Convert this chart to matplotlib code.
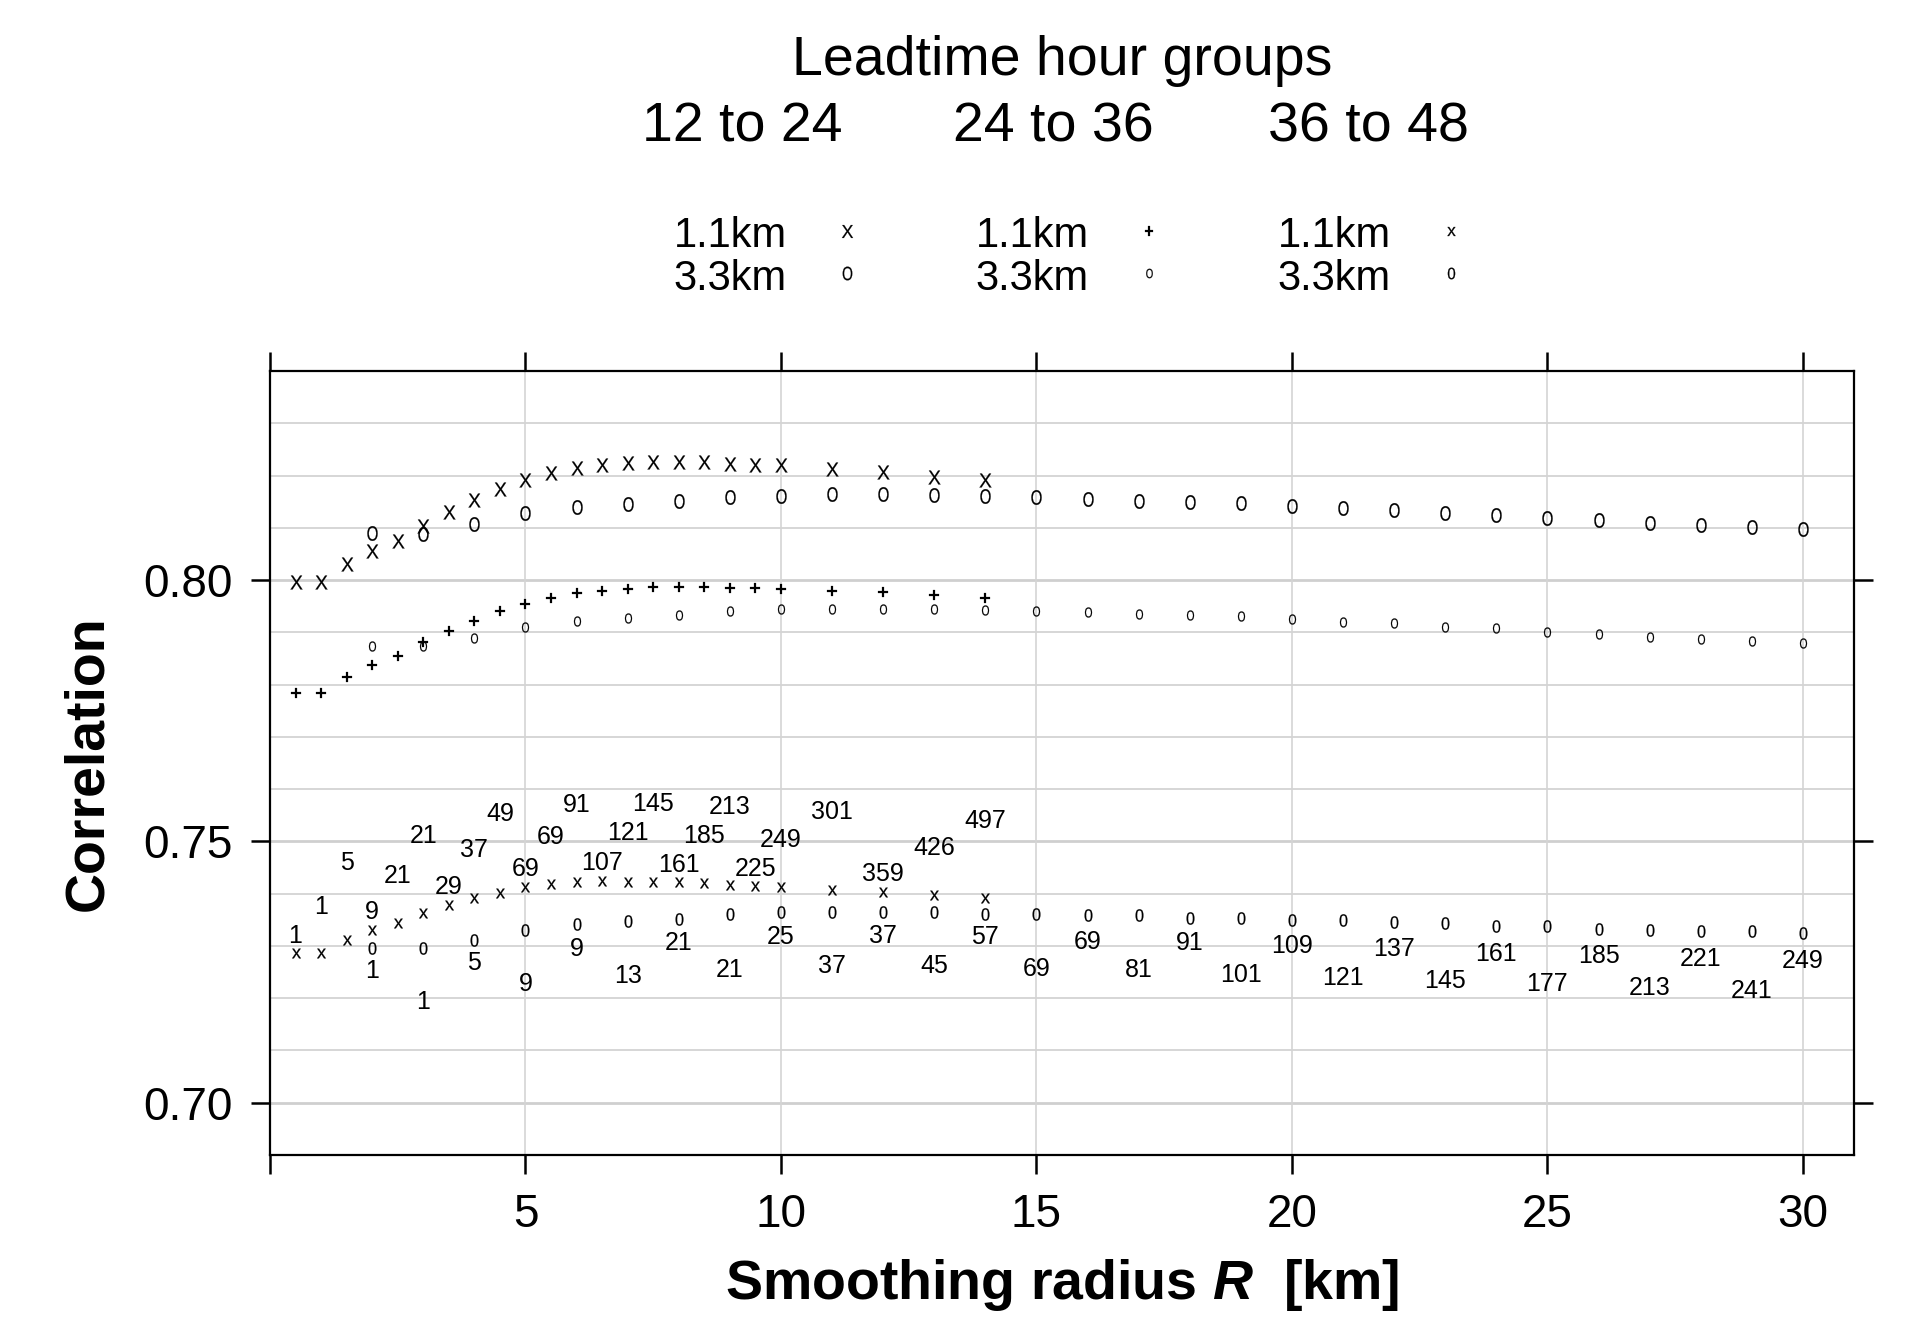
import numpy as np
import matplotlib.pyplot as plt
from matplotlib.textpath import TextPath
from matplotlib.font_manager import FontProperties
from matplotlib.path import Path

plt.rcParams['font.family'] = ['Liberation Sans', 'DejaVu Sans']
plt.rcParams['mathtext.fontset'] = 'custom'
plt.rcParams['mathtext.rm'] = 'Liberation Sans'
plt.rcParams['mathtext.it'] = 'Liberation Sans:italic:bold'
plt.rcParams['mathtext.bf'] = 'Liberation Sans:bold'

# smoothing radii (km)
radius_1km = [0.5, 1.0, 1.5, 2.0, 2.5, 3.0, 3.5, 4.0, 4.5, 5.0, 5.5, 6.0, 6.5, 7.0,
              7.5, 8.0, 8.5, 9.0, 9.5, 10.0, 11, 12, 13, 14]
radius_3km = [2, 3, 4, 5, 6, 7, 8, 9, 10, 11, 12, 13, 14, 15, 16, 17, 18, 19, 20,
              21, 22, 23, 24, 25, 26, 27, 28, 29, 30]

# correlation, leadtime 12-24 h
corr_12_24_1km = [0.7997, 0.7997, 0.8031, 0.8056, 0.8074, 0.8104, 0.8131, 0.8154,
                  0.8174, 0.8192, 0.8204, 0.8214, 0.8220, 0.8224, 0.8226, 0.8226,
                  0.8225, 0.8222, 0.8220, 0.8220, 0.8213, 0.8207, 0.8198, 0.8192]
corr_12_24_3km = [0.8090, 0.8088, 0.8107, 0.8128, 0.8140, 0.8145, 0.8151, 0.8158,
                  0.8161, 0.8164, 0.8164, 0.8162, 0.8161, 0.8158, 0.8156, 0.8152,
                  0.8150, 0.8148, 0.8141, 0.8138, 0.8134, 0.8128, 0.8125, 0.8118,
                  0.8115, 0.8110, 0.8106, 0.8102, 0.8098]

# leadtime 24-36 h
corr_24_36_1km = [0.7784, 0.7784, 0.7814, 0.7838, 0.7854, 0.7881, 0.7902, 0.7922,
                  0.7940, 0.7954, 0.7965, 0.7975, 0.7980, 0.7983, 0.7986, 0.7986,
                  0.7986, 0.7985, 0.7985, 0.7983, 0.7980, 0.7977, 0.7972, 0.7966]
corr_24_36_3km = [0.7873, 0.7873, 0.7890, 0.7911, 0.7922, 0.7927, 0.7933, 0.7940,
                  0.7945, 0.7945, 0.7945, 0.7945, 0.7943, 0.7940, 0.7939, 0.7935,
                  0.7934, 0.7931, 0.7925, 0.7920, 0.7917, 0.7911, 0.7908, 0.7901,
                  0.7896, 0.7892, 0.7887, 0.7883, 0.7879]

# leadtime 36-48 h
corr_36_48_1km = [0.7286, 0.7286, 0.7312, 0.7331, 0.7344, 0.7363, 0.7379, 0.7391,
                  0.7402, 0.7412, 0.7418, 0.7422, 0.7424, 0.7423, 0.7422, 0.7422,
                  0.7420, 0.7417, 0.7415, 0.7413, 0.7407, 0.7403, 0.7397, 0.7392]
corr_36_48_3km = [0.7297, 0.7297, 0.7311, 0.7331, 0.7342, 0.7347, 0.7352, 0.7361,
                  0.7364, 0.7364, 0.7364, 0.7364, 0.7362, 0.7362, 0.7359, 0.7359,
                  0.7353, 0.7353, 0.7349, 0.7349, 0.7345, 0.7343, 0.7338, 0.7338,
                  0.7333, 0.7331, 0.7328, 0.7328, 0.7324]

# number of grid points in neighbourhood, and where the labels sit
n_1km = [1, 1, 5, 9, 21, 21, 29, 37, 49, 69, 69, 91, 107, 121, 145, 161, 185, 213,
         225, 249, 301, 359, 426, 497]
n_1km_y = [0.7323, 0.7380, 0.7464, 0.7369, 0.7438, 0.7516, 0.7417, 0.7489, 0.7557,
           0.7452, 0.7513, 0.7575, 0.7463, 0.7520, 0.7576, 0.7460, 0.7516, 0.7571,
           0.7452, 0.7508, 0.7561, 0.7442, 0.7493, 0.7544]
n_3km = [1, 1, 5, 9, 9, 13, 21, 21, 25, 37, 37, 45, 57, 69, 69, 81, 91, 101, 109,
         121, 137, 145, 161, 177, 185, 213, 221, 241, 249]
n_3km_y = [0.7256, 0.7197, 0.7272, 0.7232, 0.7299, 0.7247, 0.7311, 0.7259, 0.7321,
           0.7266, 0.7323, 0.7266, 0.7321, 0.7260, 0.7313, 0.7258, 0.7311, 0.7250,
           0.7304, 0.7244, 0.7298, 0.7238, 0.7290, 0.7231, 0.7285, 0.7225, 0.7280,
           0.7218, 0.7276]

groups = ["12 to 24", "24 to 36", "36 to 48"]
resolutions = ["1.1km", "3.3km"]
xtick_vals = [0, 5, 10, 15, 20, 25, 30]
ytick_vals = [0.70, 0.75, 0.80]

fp = FontProperties(family='Liberation Sans')


def glyph(ch, height, xscale=1.0):
    # character outline as a marker; returns (path, scatter size) so that the
    # drawn ink is `height` points tall
    tp = TextPath((0, 0), ch, size=10, prop=fp)
    v = tp.vertices.copy()
    codes = tp.codes
    closing = codes == Path.CLOSEPOLY
    ext = Path(v, codes).get_extents()
    v = v - [(ext.x0 + ext.x1) / 2, (ext.y0 + ext.y1) / 2]
    v[:, 0] *= xscale
    v[closing] = 0
    p = Path(v, codes)
    ext = p.get_extents()
    maxabs = np.abs(v).max()
    size = height * 2 * maxabs / ext.height
    return p, size ** 2


W, H = 1915, 1322
fig = plt.figure(figsize=(W / 100, H / 100), dpi=100)
ax = fig.add_axes([270 / W, 1 - 1155 / H, (1854 - 270) / W, (1155 - 371) / H])

# (x, y, glyph, ink height in pt, horizontal squeeze) per group and resolution
series = [
    [(radius_1km, corr_12_24_1km, 'X', 10.0, 0.95),
     (radius_3km, corr_12_24_3km, 'O', 10.6, 0.72)],
    [(radius_1km, corr_24_36_1km, '+', 7.0, 1.0),
     (radius_3km, corr_24_36_3km, 'O', 7.3, 0.72)],
    [(radius_1km, corr_36_48_1km, 'x', 7.0, 1.0),
     (radius_3km, corr_36_48_3km, '0', 9.0, 0.92)],
]

for grp in series:
    for x, y, ch, hgt, sq in grp:
        m, s = glyph(ch, hgt, sq)
        ax.scatter(x, y, marker=m, s=s, c='black', edgecolors='black',
                   linewidths=0.15, zorder=3, clip_on=False)

for x, y, n in zip(radius_1km, n_1km_y, n_1km):
    ax.text(x, y, str(n), ha='center', va='center_baseline', fontsize=18, zorder=4)
for x, y, n in zip(radius_3km, n_3km_y, n_3km):
    ax.text(x, y, str(n), ha='center', va='center_baseline', fontsize=18, zorder=4)

# grid
for v in np.arange(0.69, 0.8451, 0.01):
    major = abs(v * 100 - round(v * 20) * 5) < 1e-6
    ax.axhline(v, color='#cfcfcf', lw=2.0 if major else 1.2, zorder=0)
for v in xtick_vals[1:]:
    ax.axvline(v, color='#d4d4d4', lw=1.2, zorder=0)

ax.set_xlim(0, 31)
ax.set_ylim(0.69, 0.84)
ax.set_xticks(xtick_vals)
ax.set_xticklabels([''] + [str(v) for v in xtick_vals[1:]])
ax.set_yticks(ytick_vals)
ax.set_yticklabels(['%.2f' % v for v in ytick_vals])
ax.tick_params(direction='out', length=13.7, width=1.8, labelsize=33,
               top=True, right=True, labeltop=False, labelright=False)
ax.tick_params(axis='x', pad=14)
ax.tick_params(axis='y', pad=13)
for s in ax.spines.values():
    s.set_linewidth(1.6)

fig.text(88 / W, 1 - 763 / H, 'Correlation', rotation=90, ha='center', va='center',
         fontsize=40, fontweight='bold')
fig.text(1062 / W, 1 - 1285 / H, 'Smoothing radius $R$  [km]', ha='center',
         va='center', fontsize=40, fontweight='bold')

# legend on top
fig.text(1062 / W, 1 - 75 / H, 'Leadtime hour groups', ha='center', va='baseline',
         fontsize=40)
head_x = [742, 1053, 1368]
label_right = [787, 1089, 1391]
marker_x = [847, 1149, 1451]
row_base = [247, 290]
row_mid = [231, 273]
lax = fig.add_axes([0, 0, 1, 1])
lax.set_xlim(0, W)
lax.set_ylim(H, 0)
lax.axis('off')
for i, grp in enumerate(groups):
    fig.text(head_x[i] / W, 1 - 142 / H, grp, ha='center', va='baseline', fontsize=40)
    for j, res in enumerate(resolutions):
        fig.text(label_right[i] / W, 1 - row_base[j] / H, res, ha='right',
                 va='baseline', fontsize=30)
        ch, hgt, sq = series[i][j][2], series[i][j][3], series[i][j][4]
        m, s = glyph(ch, hgt * 0.93, sq)
        lax.scatter([marker_x[i]], [row_mid[j]], marker=m, s=s,
                    c='black', edgecolors='black', linewidths=0.15)

fig.savefig('out.png', dpi=100)
